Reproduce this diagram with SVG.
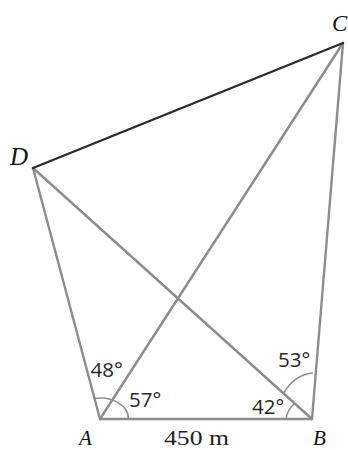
<svg xmlns="http://www.w3.org/2000/svg" width="348" height="450" viewBox="0 0 348 450">
<style>
.edge{stroke:#8c8c8c;stroke-width:2.4;fill:none;stroke-linecap:round}
.dark{stroke:#2b2b2b;stroke-width:2.4;fill:none;stroke-linecap:round}
.arc{stroke:#8c8c8c;stroke-width:1.6;fill:none}
.pt{font-family:"Liberation Serif","Times New Roman",serif;font-style:italic;fill:#111}
.ang{font-family:"Open Sans","Noto Sans",sans-serif;font-size:20.5px;fill:#262626}
.len{font-family:"Liberation Serif","Times New Roman",serif;font-size:20px;fill:#222}
</style>
<rect width="348" height="450" fill="#ffffff"/>
<g id="connectors">
<line class="edge" x1="100" y1="419" x2="312" y2="419"/>
<line class="edge" x1="312" y1="419" x2="343" y2="43"/>
<line class="edge" x1="100" y1="419" x2="33" y2="168"/>
<line class="edge" x1="100" y1="419" x2="343" y2="43"/>
<line class="edge" x1="312" y1="419" x2="33" y2="168"/>
<line class="dark" x1="33" y1="168" x2="343" y2="43"/>
</g>
<g id="angles">
<path class="arc" d="M 94.5 398.5 A 28 21 0 0 1 128.5 419"/>
<path class="arc" d="M 286 419 A 25 25 0 0 1 294.5 403.5"/>
<path class="arc" d="M 312.7 372.7 A 40 44 0 0 0 283.5 393.5"/>
<text class="ang" x="90.5" y="376.5">48°</text>
<text class="ang" x="129" y="406.5">57°</text>
<text class="ang" x="278" y="367">53°</text>
<text class="ang" x="252" y="414">42°</text>
</g>
<g id="A"><text class="pt" x="79" y="444.5" font-size="21">A</text></g>
<g id="B"><text class="pt" x="313" y="444.5" font-size="21">B</text></g>
<g id="C"><text class="pt" x="332" y="31" font-size="23">C</text></g>
<g id="D"><text class="pt" x="10" y="165" font-size="25">D</text></g>
<g id="AB-length"><text class="len" x="164" y="445" textLength="65" lengthAdjust="spacingAndGlyphs">450 m</text></g>
</svg>
